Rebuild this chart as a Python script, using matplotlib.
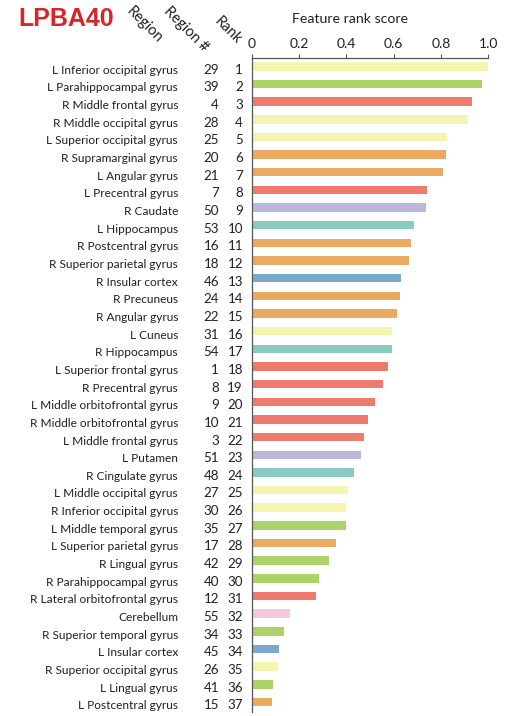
import matplotlib
matplotlib.use("Agg")
import matplotlib.pyplot as plt

# Regions ordered by feature rank
regions = [
    "L Inferior occipital gyrus", "L Parahippocampal gyrus", "R Middle frontal gyrus",
    "R Middle occipital gyrus", "L Superior occipital gyrus", "R Supramarginal gyrus",
    "L Angular gyrus", "L Precentral gyrus", "R Caudate", "L Hippocampus",
    "R Postcentral gyrus", "R Superior parietal gyrus", "R Insular cortex",
    "R Precuneus", "R Angular gyrus", "L Cuneus", "R Hippocampus",
    "L Superior frontal gyrus", "R Precentral gyrus", "L Middle orbitofrontal gyrus",
    "R Middle orbitofrontal gyrus", "L Middle frontal gyrus", "L Putamen",
    "R Cingulate gyrus", "L Middle occipital gyrus", "R Inferior occipital gyrus",
    "L Middle temporal gyrus", "L Superior parietal gyrus", "R Lingual gyrus",
    "R Parahippocampal gyrus", "R Lateral orbitofrontal gyrus", "Cerebellum",
    "R Superior temporal gyrus", "L Insular cortex", "R Superior occipital gyrus",
    "L Lingual gyrus", "L Postcentral gyrus",
]
region_ids = [29, 39, 4, 28, 25, 20, 21, 7, 50, 53, 16, 18, 46, 24, 22, 31, 54,
              1, 8, 9, 10, 3, 51, 48, 27, 30, 35, 17, 42, 40, 12, 55, 34, 45, 26,
              41, 15]
ranks = list(range(1, 38))
scores = [0.997, 0.973, 0.929, 0.914, 0.825, 0.821, 0.810, 0.739, 0.735, 0.686,
          0.672, 0.663, 0.629, 0.627, 0.615, 0.591, 0.591, 0.577, 0.555, 0.520,
          0.493, 0.474, 0.462, 0.431, 0.408, 0.398, 0.397, 0.358, 0.327, 0.283,
          0.272, 0.163, 0.136, 0.117, 0.112, 0.091, 0.086]
lobes = ["occ", "temp", "front", "occ", "occ", "par", "par", "front", "sub", "limb",
         "par", "par", "ins", "par", "par", "occ", "limb", "front", "front", "front",
         "front", "front", "sub", "limb", "occ", "occ", "temp", "par", "temp", "temp",
         "front", "cereb", "temp", "ins", "occ", "temp", "par"]
lobe_colors = {
    "occ": "#f5f5b1", "temp": "#add26a", "front": "#ef7b6f", "par": "#ebaa63",
    "sub": "#bbb7d8", "limb": "#8acbbf", "ins": "#7ba9cb", "cereb": "#f4c7de",
}
tick_values = [0, 0.2, 0.4, 0.6, 0.8, 1.0]
tick_labels = ["0", "0.2", "0.4", "0.6", "0.8", "1.0"]

plt.rcParams["font.family"] = ["Lato", "DejaVu Sans"]
txt = "#231f20"

fig = plt.figure(figsize=(5.12, 7.16), dpi=100)
W, H = 512, 716
ax_left, ax_right, ax_top, ax_bot = 251.7, 488.3, 58, 712
ax = fig.add_axes([ax_left / W, (H - ax_bot) / H, (ax_right - ax_left) / W,
                   (ax_bot - ax_top) / H])

colors = [lobe_colors[l] for l in lobes]
ax.barh(ranks, scores, height=0.48, color=colors, edgecolor="none")
ax.set_xlim(0, 1.0)
ax.set_ylim(37.57, 0.53)

ax.xaxis.set_ticks_position("top")
ax.set_xticks(tick_values)
ax.set_xticklabels(tick_labels, fontsize=10, color=txt)
ax.tick_params(axis="x", direction="out", length=3, width=0.8, color="#555555", pad=3)
ax.set_yticks([])
for s in ["right", "bottom"]:
    ax.spines[s].set_visible(False)
for s in ["top", "left"]:
    ax.spines[s].set_color("#555555")
    ax.spines[s].set_linewidth(0.9)
fig.text(350 / W, 1 - 23 / H, "Feature rank score", ha="center", va="baseline",
         fontsize=10.2, color=txt)

# Row labels: region name, region number, rank (baseline sits slightly below bar centre)
tr = ax.get_yaxis_transform()
pxw = ax_right - ax_left
base = 0.42
for r, name, rid in zip(ranks, regions, region_ids):
    ax.text((178 - ax_left) / pxw, r + base, name, transform=tr, ha="right",
            va="baseline", fontsize=8.6, color=txt, clip_on=False)
    ax.text((219 - ax_left) / pxw, r + base, str(rid), transform=tr, ha="right",
            va="baseline", fontsize=9.6, color=txt, clip_on=False)
    ax.text((243 - ax_left) / pxw, r + base, str(r), transform=tr, ha="right",
            va="baseline", fontsize=9.6, color=txt, clip_on=False)

# Header
fig.text(18 / W, 1 - 19 / H, "LPBA40", ha="left", va="center", fontsize=18,
         fontweight="bold", color="#d7262b", family=["Liberation Sans", "DejaVu Sans"])
for x0, y0, s in [(126, 12, "Region"), (163, 12, "Region #"), (214, 22, "Rank")]:
    fig.text(x0 / W, 1 - y0 / H, s, rotation=-45, rotation_mode="anchor",
             ha="left", va="baseline", fontsize=10.5, color=txt)

fig.savefig("out.png", dpi=100)
